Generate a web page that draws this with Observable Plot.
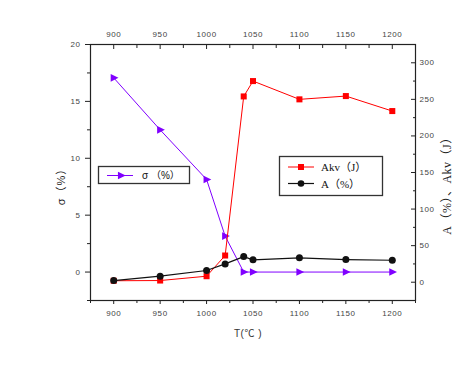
<!DOCTYPE html>
<html><head><meta charset="utf-8">
<script src="https://cdn.jsdelivr.net/npm/d3@7"></script>
<script src="https://cdn.jsdelivr.net/npm/@observablehq/plot@0.6"></script>
<style>
body{margin:0;background:#fff}
#chart{position:relative;width:470px;height:383px}
</style>
</head><body><div id="chart"></div>
<script>
// Data
const temps  = [900, 950, 1000, 1020, 1040, 1050, 1100, 1150, 1200];
const sigma  = [17.07, 12.5, 8.14, 3.16, 0, 0, 0, 0, 0];        // σ (%), left axis
const akv    = [2, 2.3, 8.2, 36.5, 254, 275, 250, 254.5, 234];  // Akv (J), right axis
const elong  = [2.3, 8.2, 16, 25, 35, 30.6, 33.4, 31, 30];      // A (%), right axis
const xTicks = [900, 950, 1000, 1050, 1100, 1150, 1200];
const xMinor = [875, 925, 975, 1025, 1075, 1125, 1175, 1225];
const leftTicks  = [0, 5, 10, 15, 20];
const leftMinor  = [-2.5, 2.5, 7.5, 12.5, 17.5];
const rightTicks = [0, 50, 100, 150, 200, 250, 300];
const rightMinor = [25, 75, 125, 175, 225, 275];
const leftDomain  = [-2.5, 20];
const rightDomain = [-25, 325];

const R = v => leftDomain[0] + (v - rightDomain[0]) * (leftDomain[1] - leftDomain[0]) / (rightDomain[1] - rightDomain[0]);
const Rinv = y => Math.round(rightDomain[0] + (y - leftDomain[0]) * (rightDomain[1] - rightDomain[0]) / (leftDomain[1] - leftDomain[0]));

const rows = temps.map((t, i) => ({t, sigma: sigma[i], akv: R(akv[i]), a: R(elong[i])}));

const triRight = {draw(ctx, size) {
  const s = Math.sqrt(size / Math.PI);
  ctx.moveTo(1.25 * s, 0); ctx.lineTo(-0.8 * s, -s); ctx.lineTo(-0.8 * s, s); ctx.closePath();
}};

const PURPLE = "#8000ff", RED = "#ff0000", BLACK = "#111";

const plot = Plot.plot({
  width: 470, height: 383,
  marginLeft: 90, marginRight: 55, marginTop: 44, marginBottom: 83,
  x: {domain: [875, 1225]},
  y: {domain: leftDomain},
  style: {fontFamily: "'Liberation Sans', Arial, sans-serif", fontSize: "8px", color: "#222", background: "white", overflow: "visible", letterSpacing: "0.6px"},
  marks: [
    Plot.axisX({anchor: "bottom", ticks: xTicks, tickSize: 4, tickPadding: 6, tickFormat: d => String(d), label: null, fill: "#444"}),
    Plot.axisX({anchor: "bottom", ticks: xMinor, tickSize: 3, tickFormat: () => "", label: null}),
    Plot.axisX({anchor: "top", ticks: xTicks, tickSize: -4, tickPadding: 12, tickFormat: d => String(d), label: null, fill: "#444"}),
    Plot.axisX({anchor: "top", ticks: xMinor, tickSize: -3, tickFormat: () => "", label: null}),
    Plot.axisY({anchor: "left", ticks: leftTicks, tickSize: 5, tickPadding: 5, tickFormat: d => String(d), label: null, fill: "#444"}),
    Plot.axisY({anchor: "left", ticks: leftMinor, tickSize: 3, tickFormat: () => "", label: null}),
    Plot.axisY({anchor: "right", ticks: rightTicks.map(R), tickSize: -5, tickPadding: 9, tickFormat: d => String(Rinv(d)), label: null, fill: "#444"}),
    Plot.axisY({anchor: "right", ticks: rightMinor.map(R), tickSize: -3, tickFormat: () => "", label: null}),
    Plot.frame({stroke: "#222", strokeWidth: 1.2}),
    Plot.line(rows, {x: "t", y: "sigma", stroke: PURPLE, strokeWidth: 1}),
    Plot.dot(rows, {x: "t", y: "sigma", symbol: triRight, r: 3.8, fill: PURPLE, stroke: "none"}),
    Plot.line(rows, {x: "t", y: "akv", stroke: RED, strokeWidth: 1}),
    Plot.dot(rows, {x: "t", y: "akv", symbol: "square", r: 3.4, fill: RED, stroke: "none"}),
    Plot.line(rows, {x: "t", y: "a", stroke: BLACK, strokeWidth: 1.2}),
    Plot.dot(rows, {x: "t", y: "a", symbol: "circle", r: 3.5, fill: BLACK, stroke: "none"})
  ]
});
document.getElementById("chart").appendChild(plot);

// Axis titles and legends
const svg = d3.select(plot);
const sans = "'Liberation Sans', 'Noto Sans CJK SC', sans-serif";
const serif = "'Liberation Serif', 'Noto Sans CJK SC', serif";
svg.append("text").attr("x", 248).attr("y", 337).attr("text-anchor", "middle")
  .style("font-family", sans).style("font-size", "10px").style("letter-spacing", "0.5px").attr("fill", "#333").text("T(℃ )");
svg.append("text").attr("transform", "translate(65,184) rotate(-90)").attr("text-anchor", "middle")
  .style("font-family", sans).style("font-size", "11px").style("letter-spacing", "1px").attr("fill", "#222").text("σ（%）");
svg.append("text").attr("transform", "translate(451,183) rotate(-90)").attr("text-anchor", "middle")
  .style("font-family", serif).style("font-size", "12px").style("letter-spacing", "0.5px").attr("fill", "#222").text("A（%）、Akv（J）");

const sym = (type, r) => d3.symbol().type(type).size(r * r * Math.PI)();
// legend 1
const l1 = svg.append("g").attr("text-anchor", "start");
l1.append("rect").attr("x", 98.5).attr("y", 166.5).attr("width", 91).attr("height", 17)
  .attr("fill", "white").attr("stroke", "#333").attr("stroke-width", 1.3);
l1.append("line").attr("x1", 107).attr("x2", 133).attr("y1", 175.5).attr("y2", 175.5).attr("stroke", PURPLE);
l1.append("path").attr("d", sym(triRight, 3.8)).attr("transform", "translate(121,175.5)").attr("fill", PURPLE);
l1.append("text").attr("x", 142).attr("y", 179).attr("text-anchor", "start").style("font-family", sans).style("font-size", "10px").style("letter-spacing", "0px")
  .attr("fill", "#111").text("σ （%）");
// legend 2
const l2 = svg.append("g").attr("text-anchor", "start");
l2.append("rect").attr("x", 279.5).attr("y", 156.5).attr("width", 103).attr("height", 39)
  .attr("fill", "white").attr("stroke", "#333").attr("stroke-width", 1.3);
l2.append("line").attr("x1", 288).attr("x2", 314).attr("y1", 167).attr("y2", 167).attr("stroke", RED);
l2.append("path").attr("d", sym(d3.symbolSquare, 3.4)).attr("transform", "translate(301,167)").attr("fill", RED);
l2.append("line").attr("x1", 288).attr("x2", 314).attr("y1", 183.5).attr("y2", 183.5).attr("stroke", BLACK).attr("stroke-width", 1.2);
l2.append("path").attr("d", sym(d3.symbolCircle, 3.3)).attr("transform", "translate(301,183.5)").attr("fill", BLACK);
l2.append("text").attr("x", 321).attr("y", 171).attr("text-anchor", "start").style("font-family", serif).style("font-size", "11px").style("letter-spacing", "0px")
  .attr("fill", "#111").text("Akv（J）");
l2.append("text").attr("x", 321).attr("y", 187.5).attr("text-anchor", "start").style("font-family", serif).style("font-size", "11px").style("letter-spacing", "0px")
  .attr("fill", "#111").text("A（%）");
</script>
</body></html>
